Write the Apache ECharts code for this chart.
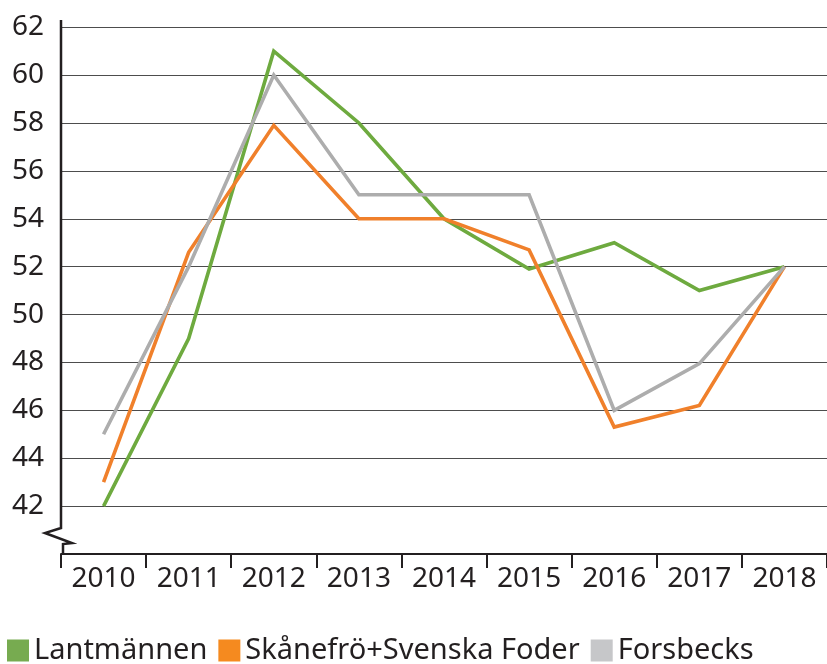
<!DOCTYPE html>
<html>
<head>
<meta charset="utf-8">
<script src="https://cdn.jsdelivr.net/npm/echarts@6/dist/echarts.min.js"></script>
<style>
  html, body { margin: 0; padding: 0; background: #fff; }
  #chart { width: 827px; height: 664px; }
</style>
</head>
<body>
<div id="chart"></div>
<script>
  // årtal på x-axeln
  const years = ['2010', '2011', '2012', '2013', '2014', '2015', '2016', '2017', '2018'];

  // värden per företag
  const lantmannen = [42, 49, 61, 58, 54, 51.9, 53, 51, 52];
  const skanefro = [43, 52.6, 57.9, 54, 54, 52.7, 45.3, 46.2, 52];
  const forsbecks = [45, 52, 60, 55, 55, 55, 46, 47.95, 52];

  const seriesNames = ['Lantmännen', 'Skånefrö+Svenska Foder', 'Forsbecks'];
  const colors = ['#6eaa3f', '#f0802b', '#adadad'];
  const legendColors = ['#77ab50', '#f58a1f', '#c6c7c9'];

  const textColor = '#231f20';
  const fontFamily = '"Noto Sans", sans-serif';

  const chart = echarts.init(document.getElementById('chart'), null, { renderer: 'canvas' });

  function lineSeries(name, data, color) {
    return {
      name: name,
      type: 'line',
      data: data,
      symbol: 'none',
      lineStyle: { color: color, width: 3.6, join: 'miter' },
      itemStyle: { color: color },
      animation: false
    };
  }

  chart.setOption({
    animation: false,
    color: colors,
    grid: { left: 61, right: 0, top: 20, bottom: 110, containLabel: false },
    legend: {
      left: 2,
      top: 631,
      itemWidth: 22,
      itemHeight: 22,
      itemGap: 11,
      icon: 'rect',
      textStyle: { color: textColor, fontSize: 29, fontFamily: fontFamily },
      data: seriesNames.map((n, i) => ({ name: n, itemStyle: { color: legendColors[i] } }))
    },
    xAxis: {
      type: 'category',
      data: years,
      boundaryGap: true,
      axisLine: { lineStyle: { color: textColor, width: 2 } },
      axisTick: { show: true, length: 14, lineStyle: { color: textColor, width: 2 } },
      axisLabel: { color: textColor, fontSize: 28, fontFamily: fontFamily, margin: 11 },
      splitLine: { show: false }
    },
    yAxis: {
      type: 'value',
      min: 40,
      max: 62.3,
      interval: 2,
      axisLine: { show: false },
      axisTick: { show: false },
      axisLabel: {
        color: textColor,
        fontSize: 28,
        fontFamily: fontFamily,
        margin: 17,
        showMinLabel: false,
        showMaxLabel: false,
        formatter: v => (v >= 42 && v <= 62 ? String(v) : '')
      },
      splitLine: {
        show: true,
        showMinLine: false,
        showMaxLine: false,
        lineStyle: { color: '#4d4d4d', width: 1 }
      }
    },
    series: [
      lineSeries(seriesNames[0], lantmannen, colors[0]),
      lineSeries(seriesNames[1], skanefro, colors[1]),
      lineSeries(seriesNames[2], forsbecks, colors[2])
    ],
    // y-axelns linje med brytmarkering
    graphic: [
      {
        type: 'polyline',
        shape: { points: [[61, 20], [61, 528], [45, 533], [72, 543], [63, 544], [63, 554]] },
        style: { stroke: textColor, lineWidth: 2.5, fill: null },
        z: 10
      }
    ]
  });

  window.addEventListener('resize', () => chart.resize());
</script>
</body>
</html>
